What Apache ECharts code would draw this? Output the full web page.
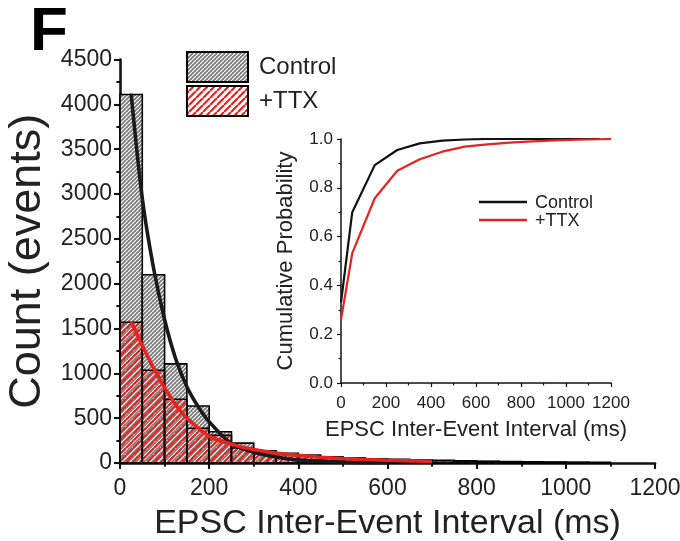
<!DOCTYPE html>
<html>
<head>
<meta charset="utf-8">
<script src="https://cdn.jsdelivr.net/npm/echarts@6/dist/echarts.min.js"></script>
<style>
  html, body { margin: 0; padding: 0; background: #fff; }
  #chart { width: 680px; height: 541px; }
</style>
</head>
<body>
<div id="chart"></div>
<script>
// Histogram bins (left edge, ms) and event counts per bin
const binWidth = 50;
const binStarts = [0, 50, 100, 150, 200, 250, 300, 350, 400, 450, 500, 550, 600, 650, 700, 750, 800, 850, 900, 950, 1000, 1050];
const controlCounts = [4110, 2100, 1105, 636, 349, 222, 137, 108, 89, 70, 55, 45, 37, 30, 25, 20, 16, 13, 10, 8, 6, 5];
const ttxCounts = [1570, 1035, 711, 387, 310, 168, 122, 95, 80, 66, 56, 47, 40, 34, 29, 24, 20, 16, 13, 10, 8, 6];

// Exponential fits drawn over the histograms: [interval ms, count]
const controlFit = [[25, 4120], [50, 2950], [75, 2180], [100, 1600], [125, 1160], [150, 850], [175, 630], [200, 460], [250, 215], [300, 120], [350, 68], [400, 35], [500, 10], [600, 3]];
const ttxFit = [[25, 1575], [50, 1310], [75, 1060], [100, 840], [125, 650], [150, 500], [200, 300], [250, 210], [300, 150], [350, 110], [400, 85], [450, 65], [500, 50], [600, 30], [700, 18]];

// Cumulative probability curves: [interval ms, probability]
const controlCum = [[0, 0.33], [50, 0.70], [150, 0.893], [250, 0.955], [350, 0.982], [450, 0.993], [550, 0.998], [650, 1.0], [750, 1.0], [850, 1.0], [950, 1.0], [1050, 1.0], [1150, 1.0]];
const ttxCum = [[0, 0.26], [50, 0.532], [150, 0.757], [250, 0.870], [350, 0.917], [450, 0.948], [550, 0.969], [650, 0.978], [750, 0.985], [850, 0.990], [950, 0.994], [1050, 0.997], [1150, 0.999], [1200, 1.0]];

// Tick values for the axes
const mainXTicks = { min: 0, max: 1200, interval: 200 };
const mainYTicks = { min: 0, max: 4500, interval: 500 };
const insetXTicks = { min: 0, max: 1200, interval: 200 };
const insetYTicks = { min: 0, max: 1, interval: 0.2 };

const FONT = 'Arial, "Liberation Sans", Helvetica, sans-serif';
const RED = '#e8231f';

// Diagonal "/" hatch tiles used as pattern fills
function hatchTile(size, bg, stripe, width) {
  const c = document.createElement('canvas');
  c.width = size; c.height = size;
  const g = c.getContext('2d');
  if (bg) { g.fillStyle = bg; g.fillRect(0, 0, size, size); }
  g.strokeStyle = stripe;
  g.lineWidth = width;
  g.beginPath();
  for (const o of [-size, 0, size]) {
    g.moveTo(o, size);
    g.lineTo(o + size, 0);
  }
  g.stroke();
  return c;
}
const controlPattern = { image: hatchTile(4, '#7c7c7c', '#ffffff', 1.2), repeat: 'repeat' };
const ttxPattern = { image: hatchTile(7, null, RED, 2.2), repeat: 'repeat' };
const ttxLegendPattern = { image: hatchTile(7, '#ffffff', RED, 2.2), repeat: 'repeat' };

function binRenderer(fill) {
  return function (params, api) {
    const x0 = api.value(0);
    const h = api.value(1);
    const p0 = api.coord([x0, h]);
    const p1 = api.coord([x0 + binWidth, 0]);
    return {
      type: 'rect',
      shape: { x: p0[0], y: p0[1], width: p1[0] - p0[0], height: p1[1] - p0[1] },
      style: { fill: fill, stroke: '#000', lineWidth: 1.6 }
    };
  };
}

const plain = v => String(v);

const axisBase = (fontSize, lineW, tickLen, margin) => ({
  axisLine: { show: true, onZero: false, lineStyle: { color: '#111', width: lineW } },
  axisTick: { show: true, length: tickLen, lineStyle: { color: '#111', width: lineW * 0.8 } },
  minorTick: { show: true, splitNumber: 2, length: tickLen * 0.6, lineStyle: { color: '#111', width: lineW * 0.8 } },
  axisLabel: { color: '#222', fontSize: fontSize, fontFamily: FONT, formatter: plain, margin: margin },
  splitLine: { show: false }
});

const chart = echarts.init(document.getElementById('chart'), null, { renderer: 'canvas' });

chart.setOption({
  backgroundColor: '#fff',
  animation: false,
  grid: [
    { left: 120, right: 25, top: 59.5, bottom: 78, outerBoundsMode: 'none', containLabel: false },
    { left: 341, top: 139, width: 270, height: 244, outerBoundsMode: 'none', containLabel: false }
  ],
  xAxis: [
    Object.assign(axisBase(23, 2.6, 6, 14), {
      type: 'value', gridIndex: 0,
      min: mainXTicks.min, max: mainXTicks.max, interval: mainXTicks.interval,
      name: 'EPSC Inter-Event Interval (ms)', nameLocation: 'middle', nameGap: 44,
      nameTextStyle: { fontSize: 34, color: '#222', fontFamily: FONT }
    }),
    Object.assign(axisBase(17, 1.5, 4, 12), {
      type: 'value', gridIndex: 1,
      min: insetXTicks.min, max: insetXTicks.max, interval: insetXTicks.interval,
      name: 'EPSC Inter-Event Interval (ms)', nameLocation: 'middle', nameGap: 36,
      nameTextStyle: { fontSize: 22, color: '#222', fontFamily: FONT }
    })
  ],
  yAxis: [
    Object.assign(axisBase(23, 2.6, 6, 8), {
      type: 'value', gridIndex: 0,
      min: mainYTicks.min, max: mainYTicks.max, interval: mainYTicks.interval,
      name: 'Count (events)', nameLocation: 'middle', nameGap: 68,
      nameTextStyle: { fontSize: 45, color: '#222', fontFamily: FONT }
    }),
    Object.assign(axisBase(17, 1.5, 4, 8), {
      type: 'value', gridIndex: 1,
      min: insetYTicks.min, max: insetYTicks.max, interval: insetYTicks.interval,
      name: 'Cumulative Probability', nameLocation: 'middle', nameGap: 44,
      nameTextStyle: { fontSize: 22, color: '#222', fontFamily: FONT },
      axisLabel: { color: '#222', fontSize: 17, fontFamily: FONT, margin: 8, formatter: v => v.toFixed(1) }
    })
  ],
  series: [
    {
      name: 'Control', type: 'custom', xAxisIndex: 0, yAxisIndex: 0, z: 2,
      renderItem: binRenderer(controlPattern),
      encode: { x: 0, y: 1 },
      data: binStarts.map((b, i) => [b, controlCounts[i]])
    },
    {
      name: '+TTX', type: 'custom', xAxisIndex: 0, yAxisIndex: 0, z: 3,
      renderItem: binRenderer(ttxPattern),
      encode: { x: 0, y: 1 },
      data: binStarts.map((b, i) => [b, ttxCounts[i]])
    },
    {
      name: 'Control fit', type: 'line', xAxisIndex: 0, yAxisIndex: 0, z: 4,
      showSymbol: false, smooth: 0.3,
      lineStyle: { color: '#1a1a1a', width: 3.6 },
      data: controlFit
    },
    {
      name: '+TTX fit', type: 'line', xAxisIndex: 0, yAxisIndex: 0, z: 5,
      showSymbol: false, smooth: 0.3,
      lineStyle: { color: RED, width: 3.6 },
      data: ttxFit
    },
    {
      name: 'Control cumulative', type: 'line', xAxisIndex: 1, yAxisIndex: 1, z: 4,
      showSymbol: false,
      lineStyle: { color: '#111', width: 2.2 },
      data: controlCum
    },
    {
      name: '+TTX cumulative', type: 'line', xAxisIndex: 1, yAxisIndex: 1, z: 5,
      showSymbol: false,
      lineStyle: { color: RED, width: 2.2 },
      data: ttxCum
    }
  ],
  graphic: [
    // panel letter
    { type: 'text', style: { x: 30, y: 33, text: 'F', font: 'bold 62px ' + FONT, fill: '#000', verticalAlign: 'middle' } },
    // main legend
    { type: 'rect', shape: { x: 187, y: 52, width: 61, height: 30 }, style: { fill: controlPattern, stroke: '#000', lineWidth: 2 } },
    { type: 'rect', shape: { x: 187, y: 86, width: 61, height: 30 }, style: { fill: ttxLegendPattern, stroke: '#000', lineWidth: 2 } },
    { type: 'text', style: { x: 259, y: 67, text: 'Control', font: '24px ' + FONT, fill: '#222', verticalAlign: 'middle' } },
    { type: 'text', style: { x: 259, y: 101, text: '+TTX', font: '24px ' + FONT, fill: '#222', verticalAlign: 'middle' } },
    // inset legend
    { type: 'line', shape: { x1: 479, y1: 202, x2: 527, y2: 202 }, style: { stroke: '#111', lineWidth: 2.4 } },
    { type: 'line', shape: { x1: 479, y1: 220, x2: 527, y2: 220 }, style: { stroke: RED, lineWidth: 2.4 } },
    { type: 'text', style: { x: 535, y: 203, text: 'Control', font: '18px ' + FONT, fill: '#222', verticalAlign: 'middle' } },
    { type: 'text', style: { x: 535, y: 221, text: '+TTX', font: '18px ' + FONT, fill: '#222', verticalAlign: 'middle' } }
  ]
});
</script>
</body>
</html>
